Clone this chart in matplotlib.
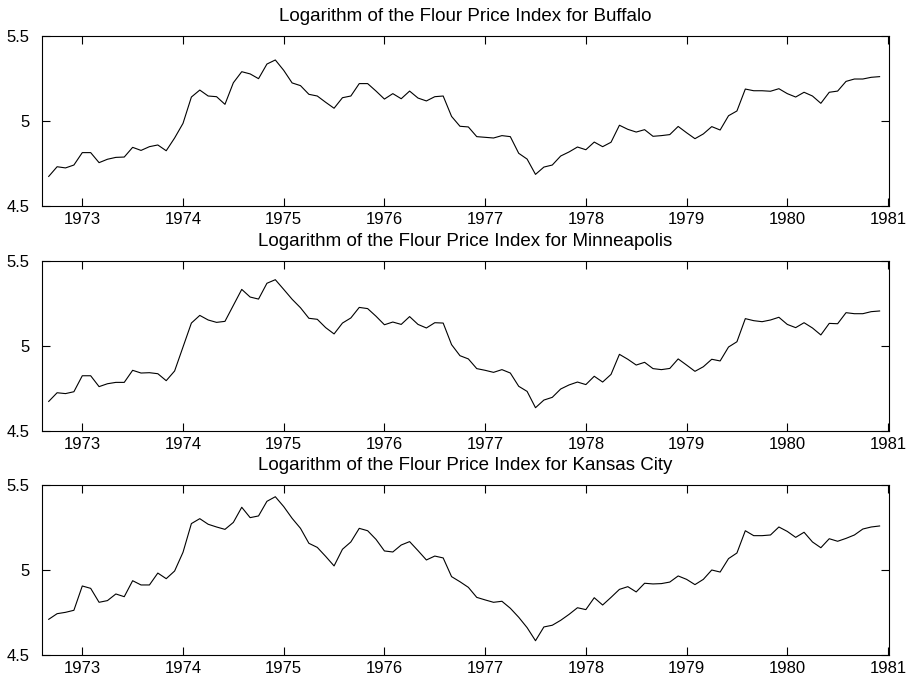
import numpy as np
import matplotlib
matplotlib.use("Agg")
import matplotlib.pyplot as plt

plt.rcParams['font.family'] = ['Liberation Sans', 'DejaVu Sans']

start_year = 1972 + 8 / 12

buffalo = [4.674, 4.731, 4.724, 4.741, 4.814, 4.814, 4.755, 4.775, 4.786, 4.788,
           4.845, 4.827, 4.849, 4.859, 4.825, 4.900, 4.986, 5.141, 5.182, 5.147,
           5.143, 5.098, 5.225, 5.290, 5.277, 5.249, 5.335, 5.359, 5.298, 5.224,
           5.208, 5.157, 5.147, 5.110, 5.075, 5.137, 5.147, 5.220, 5.220, 5.176,
           5.129, 5.161, 5.131, 5.176, 5.135, 5.118, 5.143, 5.147, 5.027, 4.969,
           4.965, 4.908, 4.904, 4.900, 4.914, 4.908, 4.810, 4.776, 4.686, 4.729,
           4.741, 4.794, 4.818, 4.847, 4.831, 4.876, 4.849, 4.875, 4.975, 4.951,
           4.935, 4.949, 4.910, 4.914, 4.920, 4.968, 4.931, 4.896, 4.924, 4.967,
           4.947, 5.031, 5.059, 5.188, 5.178, 5.178, 5.175, 5.190, 5.161, 5.141,
           5.169, 5.147, 5.104, 5.169, 5.176, 5.233, 5.247, 5.247, 5.257, 5.261]

minneapolis = [4.674, 4.725, 4.720, 4.731, 4.825, 4.825, 4.761, 4.778, 4.786, 4.786,
               4.857, 4.841, 4.843, 4.837, 4.796, 4.853, 4.994, 5.135, 5.180, 5.153,
               5.139, 5.145, 5.239, 5.333, 5.288, 5.276, 5.369, 5.390, 5.333, 5.275,
               5.225, 5.163, 5.157, 5.108, 5.071, 5.135, 5.165, 5.227, 5.220, 5.175,
               5.125, 5.141, 5.127, 5.173, 5.127, 5.106, 5.137, 5.135, 5.008, 4.943,
               4.924, 4.867, 4.857, 4.845, 4.861, 4.841, 4.763, 4.733, 4.637, 4.682,
               4.698, 4.747, 4.771, 4.788, 4.773, 4.822, 4.788, 4.833, 4.951, 4.922,
               4.888, 4.904, 4.867, 4.861, 4.868, 4.924, 4.888, 4.851, 4.878, 4.922,
               4.912, 4.994, 5.025, 5.161, 5.149, 5.143, 5.153, 5.169, 5.127, 5.108,
               5.137, 5.106, 5.065, 5.133, 5.131, 5.196, 5.190, 5.190, 5.202, 5.206]

kansas_city = [4.710, 4.743, 4.751, 4.763, 4.906, 4.892, 4.810, 4.820, 4.859, 4.843,
               4.937, 4.912, 4.912, 4.982, 4.949, 4.994, 5.104, 5.273, 5.302, 5.269,
               5.253, 5.239, 5.280, 5.369, 5.308, 5.318, 5.404, 5.431, 5.373, 5.304,
               5.245, 5.157, 5.133, 5.080, 5.024, 5.122, 5.165, 5.245, 5.231, 5.180,
               5.112, 5.106, 5.147, 5.167, 5.114, 5.059, 5.082, 5.071, 4.961, 4.931,
               4.898, 4.839, 4.824, 4.810, 4.816, 4.775, 4.722, 4.661, 4.584, 4.665,
               4.675, 4.704, 4.739, 4.778, 4.767, 4.837, 4.794, 4.839, 4.886, 4.902,
               4.871, 4.922, 4.918, 4.920, 4.929, 4.965, 4.945, 4.914, 4.945, 5.000,
               4.988, 5.067, 5.100, 5.231, 5.202, 5.202, 5.206, 5.253, 5.227, 5.192,
               5.222, 5.165, 5.131, 5.184, 5.169, 5.186, 5.206, 5.241, 5.253, 5.259]

cities = ["Buffalo", "Minneapolis", "Kansas City"]
series = [buffalo, minneapolis, kansas_city]
xticks = [1973, 1974, 1975, 1976, 1977, 1978, 1979, 1980, 1981]
yticks = [4.5, 5.0, 5.5]
ytick_labels = ["4.5", "5", "5.5"]

W, H = 910, 679
fig = plt.figure(figsize=(W / 100, H / 100), dpi=100)

left, right = 42, 889
tops = [36, 261, 485]
height = 170

t = start_year + np.arange(len(buffalo)) / 12

for city, vals, top in zip(cities, series, tops):
    ax = fig.add_axes([left / W, 1 - (top + height) / H, (right - left) / W, height / H])
    ax.plot(t, vals, color='black', linewidth=0.8)
    ax.set_xlim(1972.6, 1981.01)
    ax.set_ylim(4.5, 5.5)
    ax.set_xticks(xticks)
    ax.set_xticklabels([str(x) for x in xticks])
    ax.set_yticks(yticks)
    ax.set_yticklabels(ytick_labels)
    ax.tick_params(direction='in', top=True, right=True, length=6, width=0.8,
                   labelsize=12)
    ax.tick_params(axis='x', pad=4)
    ax.tick_params(axis='y', pad=9)
    for s in ax.spines.values():
        s.set_linewidth(0.8)
    ax.set_title(f"Logarithm of the Flour Price Index for {city}", fontsize=13.5, pad=11)

fig.savefig("out.png", dpi=100)
